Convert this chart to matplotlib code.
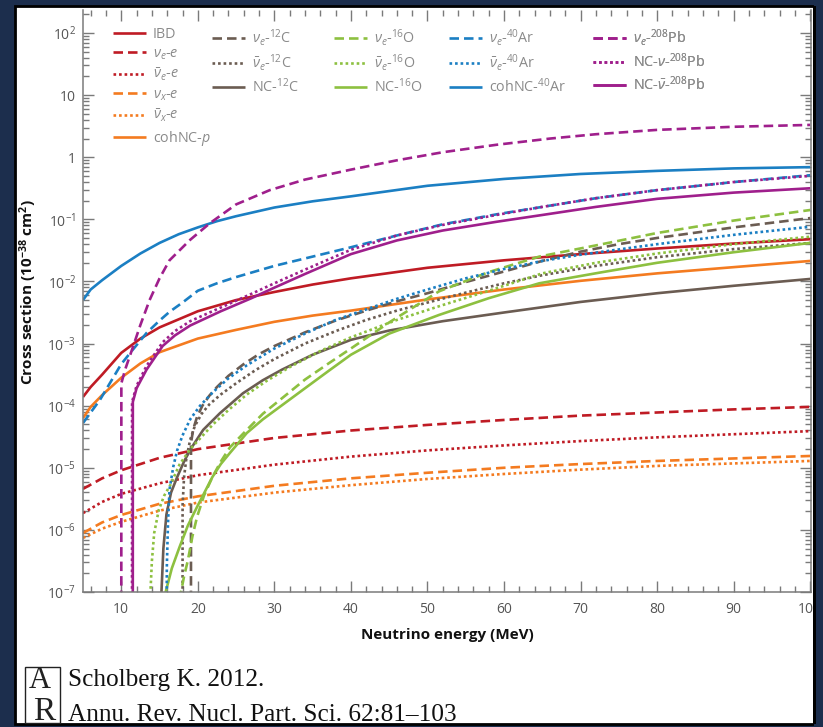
import numpy as np
import matplotlib
matplotlib.use("Agg")
import matplotlib.pyplot as plt
from matplotlib.patches import Rectangle
from matplotlib.ticker import FixedLocator, FuncFormatter, LogLocator, NullFormatter, MultipleLocator

plt.rcParams['font.family'] = ['Open Sans', 'DejaVu Sans']
plt.rcParams['mathtext.fontset'] = 'custom'
plt.rcParams['mathtext.rm'] = 'Open Sans'
plt.rcParams['mathtext.it'] = 'Open Sans:italic'
plt.rcParams['mathtext.bf'] = 'Open Sans:bold'

# ---- cross sections, log10 of sigma in units of 1e-38 cm^2, vs neutrino energy (MeV) ----
E_ibd = [5, 6, 7.5, 10, 12.5, 15, 20, 25, 30, 35, 40, 50, 60, 70, 80, 90, 100]
ibd = [-3.86, -3.70, -3.50, -3.15, -2.92, -2.74, -2.48, -2.30, -2.17, -2.05, -1.95, -1.78, -1.66, -1.56, -1.47, -1.39, -1.32]

E_es = [5, 7.5, 10, 15, 20, 30, 40, 50, 60, 70, 80, 90, 100]
nue_e = [-5.34, -5.17, -5.04, -4.84, -4.70, -4.52, -4.40, -4.31, -4.23, -4.16, -4.11, -4.06, -4.02]
nuebar_e = [-5.73, -5.55, -5.42, -5.25, -5.12, -4.95, -4.82, -4.72, -4.64, -4.57, -4.51, -4.46, -4.41]
nux_e = [-6.05, -5.88, -5.76, -5.58, -5.46, -5.29, -5.17, -5.08, -5.00, -4.94, -4.89, -4.85, -4.81]
nuxbar_e = [-6.13, -5.98, -5.87, -5.69, -5.56, -5.40, -5.28, -5.18, -5.10, -5.03, -4.97, -4.93, -4.89]

E_cohp = [5, 6, 7.5, 10, 12.5, 15, 20, 25, 30, 35, 40, 50, 60, 70, 80, 90, 100]
coh_p = [-4.20, -4.02, -3.83, -3.55, -3.32, -3.14, -2.92, -2.78, -2.65, -2.55, -2.47, -2.29, -2.13, -1.99, -1.87, -1.77, -1.67]

E_c12_cc = [19.1, 19.11, 19.4, 19.9, 20.6, 21.5, 22.5, 24, 26, 28, 30, 34, 38, 42, 46, 50, 55, 60, 65, 70, 75, 80, 90, 100]
nue_c12 = [-9, -4.60, -4.38, -4.18, -4.00, -3.84, -3.70, -3.52, -3.33, -3.17, -3.04, -2.82, -2.63, -2.47, -2.32, -2.19, -2.01, -1.84, -1.67, -1.52, -1.40, -1.30, -1.13, -0.98]
E_c12_bar = [18.0, 18.01, 18.2, 18.5, 19.0, 19.6, 20.5, 21.5, 23, 25, 27.5, 30, 34, 38, 42, 46, 50, 55, 60, 65, 72, 80, 90, 100]
nuebar_c12 = [-9, -5.60, -5.15, -4.85, -4.55, -4.33, -4.13, -3.98, -3.82, -3.64, -3.43, -3.25, -3.00, -2.80, -2.62, -2.47, -2.34, -2.18, -2.03, -1.90, -1.75, -1.61, -1.48, -1.38]
E_c12_nc = [15.2, 15.25, 15.5, 15.9, 16.5, 17.3, 18.2, 19.0, 20.7, 22.9, 25.9, 28.5, 31, 35, 40, 45, 52, 60, 70, 80, 90, 100]
nc_c12 = [-9, -7.0, -6.30, -5.75, -5.40, -5.15, -4.90, -4.71, -4.39, -4.12, -3.80, -3.59, -3.42, -3.18, -2.94, -2.79, -2.64, -2.50, -2.33, -2.19, -2.07, -1.96]

E_o16_cc = [17.55, 17.6, 17.8, 18.2, 18.7, 19.3, 19.9, 20.8, 21.9, 23, 24.2, 26.4, 28.5, 30.7, 34, 37.2, 40, 45, 51.5, 58, 64.6, 72.4, 80, 90, 100]
nue_o16 = [-9, -7.4, -7.0, -6.75, -6.49, -6.10, -5.79, -5.45, -5.15, -4.90, -4.67, -4.39, -4.13, -3.91, -3.58, -3.31, -3.08, -2.66, -2.16, -1.85, -1.60, -1.41, -1.22, -1.02, -0.85]
E_o16_bar = [13.8, 13.81, 14.0, 14.3, 14.9, 15.6, 16.4, 17.6, 19.0, 20.5, 22, 24, 26.4, 29, 32, 36, 40, 46, 52, 58, 65, 72, 80, 90, 100]
nuebar_o16 = [-9, -7.0, -6.50, -6.05, -5.68, -5.45, -5.28, -4.95, -4.70, -4.50, -4.30, -4.07, -3.82, -3.60, -3.38, -3.12, -2.90, -2.62, -2.38, -2.15, -1.87, -1.70, -1.55, -1.40, -1.28]
E_o16_nc = [15.5, 15.8, 16.6, 17.6, 18.7, 19.9, 21.9, 23, 24.2, 26.4, 28.5, 30.7, 34, 37.2, 40, 45, 51.5, 58, 64.6, 72.4, 80, 90, 100]
nc_o16 = [-9, -7.0, -6.62, -6.28, -5.93, -5.63, -5.15, -4.94, -4.76, -4.44, -4.22, -4.02, -3.72, -3.43, -3.18, -2.84, -2.54, -2.27, -2.03, -1.86, -1.70, -1.53, -1.38]

E_ar_cc = [5, 6, 7.2, 8.5, 10, 11.5, 13.3, 15, 16.3, 18, 20, 22.5, 25, 27.5, 30, 35, 40, 46, 52, 59, 65, 72, 80, 90, 100]
nue_ar = [-4.28, -4.11, -3.91, -3.64, -3.33, -3.10, -2.83, -2.63, -2.49, -2.34, -2.15, -2.03, -1.93, -1.84, -1.75, -1.60, -1.45, -1.26, -1.08, -0.92, -0.80, -0.66, -0.53, -0.40, -0.29]
E_ar_bar = [15.9, 15.95, 16.1, 16.3, 16.8, 17.3, 18, 19, 20.3, 22, 24, 26.4, 30, 34, 38, 42, 46, 50, 55, 60, 65, 70, 80, 90, 100]
nuebar_ar = [-9, -6.6, -5.9, -5.35, -4.98, -4.72, -4.48, -4.22, -4.00, -3.78, -3.56, -3.35, -3.08, -2.84, -2.62, -2.45, -2.28, -2.13, -1.95, -1.80, -1.67, -1.57, -1.40, -1.25, -1.12]
E_ar_coh = [5, 6, 7.5, 10, 12.5, 15, 17.5, 20, 22.5, 25, 30, 35, 40, 50, 60, 70, 80, 90, 100]
coh_ar = [-2.30, -2.13, -1.98, -1.75, -1.55, -1.38, -1.24, -1.13, -1.03, -0.95, -0.81, -0.71, -0.63, -0.46, -0.35, -0.27, -0.22, -0.18, -0.16]

E_pb_cc = [10.0, 10.01, 10.5, 11.4, 12.5, 13.7, 15, 16.3, 19, 21.6, 25, 29.4, 34, 40, 46, 52, 59, 66, 72, 80, 90, 100]
nue_pb = [-9, -3.64, -3.42, -3.10, -2.70, -2.30, -1.95, -1.66, -1.33, -1.06, -0.76, -0.53, -0.36, -0.20, -0.05, 0.08, 0.20, 0.30, 0.37, 0.44, 0.49, 0.52]
E_pb_nc = [11.4, 11.41, 12.0, 13.3, 15.4, 17, 19, 23, 27, 30, 34, 40, 46, 52, 59, 65, 72, 80, 90, 100]
nc_nu_pb = [-9, -3.94, -3.68, -3.36, -2.98, -2.80, -2.64, -2.42, -2.20, -2.03, -1.81, -1.49, -1.26, -1.09, -0.93, -0.80, -0.66, -0.53, -0.40, -0.30]
E_pb_ncbar = [11.5, 11.51, 12.0, 13.3, 15.4, 17, 19, 23, 27, 30, 34, 40, 46, 52, 59, 65, 72, 80, 90, 100]
nc_nubar_pb = [-9, -3.94, -3.72, -3.42, -3.04, -2.87, -2.71, -2.48, -2.27, -2.10, -1.88, -1.56, -1.34, -1.18, -1.04, -0.93, -0.80, -0.67, -0.57, -0.50]

y_ticks = [1e-7, 1e-6, 1e-5, 1e-4, 1e-3, 1e-2, 1e-1, 1, 10, 100]
y_tick_labels = [r'$\mathregular{10^{-7}}$', r'$\mathregular{10^{-6}}$', r'$\mathregular{10^{-5}}$',
                 r'$\mathregular{10^{-4}}$', r'$\mathregular{10^{-3}}$', r'$\mathregular{10^{-2}}$',
                 r'$\mathregular{10^{-1}}$', '1', '10', r'$\mathregular{10^{2}}$']
x_ticks = [10, 20, 30, 40, 50, 60, 70, 80, 90, 100]

RED = '#bf1b24'
ORANGE = '#f47b20'
BROWN = '#6b5c52'
GREEN = '#8dc040'
BLUE = '#1b7fc3'
PURPLE = '#9f1f8c'
NAVY = '#1c2e4d'

LW = 1.9
DASH = (3.6, 1.9)
DOT = (1.0, 1.1)

# (energies, log10 sigma, colour, dash pattern, legend label)
columns = [
    [
        (E_ibd, ibd, RED, None, 'IBD'),
        (E_es, nue_e, RED, DASH, r'$\nu_e$-$e$'),
        (E_es, nuebar_e, RED, DOT, r'$\bar{\nu}_e$-$e$'),
        (E_es, nux_e, ORANGE, DASH, r'$\nu_x$-$e$'),
        (E_es, nuxbar_e, ORANGE, DOT, r'$\bar{\nu}_x$-$e$'),
        (E_cohp, coh_p, ORANGE, None, r'cohNC-$p$'),
    ],
    [
        (E_c12_cc, nue_c12, BROWN, DASH, r'$\nu_e$-$^{12}$C'),
        (E_c12_bar, nuebar_c12, BROWN, DOT, r'$\bar{\nu}_e$-$^{12}$C'),
        (E_c12_nc, nc_c12, BROWN, None, r'NC-$^{12}$C'),
    ],
    [
        (E_o16_cc, nue_o16, GREEN, DASH, r'$\nu_e$-$^{16}$O'),
        (E_o16_bar, nuebar_o16, GREEN, DOT, r'$\bar{\nu}_e$-$^{16}$O'),
        (E_o16_nc, nc_o16, GREEN, None, r'NC-$^{16}$O'),
    ],
    [
        (E_ar_cc, nue_ar, BLUE, DASH, r'$\nu_e$-$^{40}$Ar'),
        (E_ar_bar, nuebar_ar, BLUE, DOT, r'$\bar{\nu}_e$-$^{40}$Ar'),
        (E_ar_coh, coh_ar, BLUE, None, r'cohNC-$^{40}$Ar'),
    ],
    [
        (E_pb_cc, nue_pb, PURPLE, DASH, r'$\nu_e$-$^{208}$Pb'),
        (E_pb_nc, nc_nu_pb, PURPLE, DOT, r'NC-$\nu$-$^{208}$Pb'),
        (E_pb_ncbar, nc_nubar_pb, PURPLE, None, r'NC-$\bar{\nu}$-$^{208}$Pb'),
    ],
]

W, H = 823, 727
fig = plt.figure(figsize=(W / 100, H / 100), dpi=100)
fig.patch.set_facecolor(NAVY)

def fx(px):
    return px / W

def fy(py):
    return 1 - py / H

# white page behind the plot
fig.patches.append(Rectangle((fx(15), fy(724)), fx(800), 718 / H, transform=fig.transFigure,
                             facecolor='white', edgecolor='black', linewidth=2.0, zorder=-5))

ax = fig.add_axes([fx(83), fy(592), fx(811 - 83), (592 - 10) / H])
ax.set_facecolor('none')
ax.set_yscale('log')
ax.set_xlim(5, 100.1)
ax.set_ylim(1e-7, 10 ** 2.37)

handles_by_col = []
for col in columns:
    hs = []
    for E, lg, c, dash, lab in col:
        sig = 10.0 ** np.asarray(lg)
        line, = ax.plot(E, sig, color=c, lw=LW, label=lab, solid_capstyle='butt',
                        dash_capstyle='butt')
        if dash is not None:
            line.set_dashes(dash)
        hs.append(line)
    handles_by_col.append(hs)

# axes styling
SP = '#7a7a7a'
for s in ['left', 'bottom', 'right']:
    ax.spines[s].set_color(SP)
    ax.spines[s].set_linewidth(1.1)
ax.spines['top'].set_visible(False)

ax.yaxis.set_major_locator(FixedLocator(y_ticks))
ax.yaxis.set_major_formatter(FuncFormatter(lambda v, p: y_tick_labels[y_ticks.index(v)] if v in y_ticks else ''))
ax.yaxis.set_minor_locator(LogLocator(base=10, subs=np.arange(2, 10), numticks=20))
ax.yaxis.set_minor_formatter(NullFormatter())
ax.xaxis.set_major_locator(FixedLocator(x_ticks))
ax.xaxis.set_minor_locator(MultipleLocator(2))
ax.tick_params(which='both', direction='in', top=True, right=True, color=SP, width=1.0,
               labelcolor='#555555', labelsize=10)
ax.tick_params(which='major', length=8)
ax.tick_params(which='minor', length=4)
ax.tick_params(axis='y', pad=5)
ax.tick_params(axis='x', pad=7)

ax.set_xlabel('Neutrino energy (MeV)', fontsize=11, fontweight='bold', color='#111111')
ax.set_ylabel(r'Cross section (10$^{\mathbf{-38}}$ cm$^{\mathbf{2}}$)', fontsize=11,
              fontweight='bold', color='#111111')
ax.xaxis.set_label_coords(0.5, -0.062)
ax.yaxis.set_label_coords(-0.060, 0.515)

# legend, one block per target
leg_x = [113, 212, 334, 449, 593]
for hs, lx in zip(handles_by_col, leg_x):
    lg = ax.legend(handles=hs, loc='upper left', bbox_to_anchor=(fx(lx), fy(27)),
                   bbox_transform=fig.transFigure, frameon=False, fontsize=10.3,
                   handlelength=2.3, handletextpad=0.5, handleheight=0.7,
                   labelspacing=0.30, borderpad=0, borderaxespad=0, labelcolor='#8a8a8a')
    ax.add_artist(lg)

# right border covers the tail of the last tick label
fig.patches.append(Rectangle((fx(814), 0), fx(9), 1, transform=fig.transFigure,
                             facecolor=NAVY, edgecolor='none', zorder=10))
fig.patches.append(Rectangle((fx(813), fy(724)), fx(2.5), 718 / H, transform=fig.transFigure,
                             facecolor='black', edgecolor='none', zorder=11))

# journal citation
fig.patches.append(Rectangle((fx(25), fy(723)), fx(35), 56 / H, transform=fig.transFigure,
                             facecolor='none', edgecolor='#222222', linewidth=1.0, zorder=3))
fig.text(fx(40), fy(688), 'A', fontsize=22, family='Liberation Serif', ha='center', va='baseline', color='#222222')
fig.text(fx(44), fy(720), 'R', fontsize=24, family='Liberation Serif', ha='center', va='baseline', color='#222222')
fig.text(fx(68), fy(686), 'Scholberg K. 2012.', fontsize=18.2, family='Liberation Serif',
         ha='left', va='baseline', color='#111111')
fig.text(fx(68), fy(721), 'Annu. Rev. Nucl. Part. Sci. 62:81\u2013103', fontsize=18.2,
         family='Liberation Serif', ha='left', va='baseline', color='#111111')

fig.savefig('out.png', dpi=100, facecolor=fig.get_facecolor())
